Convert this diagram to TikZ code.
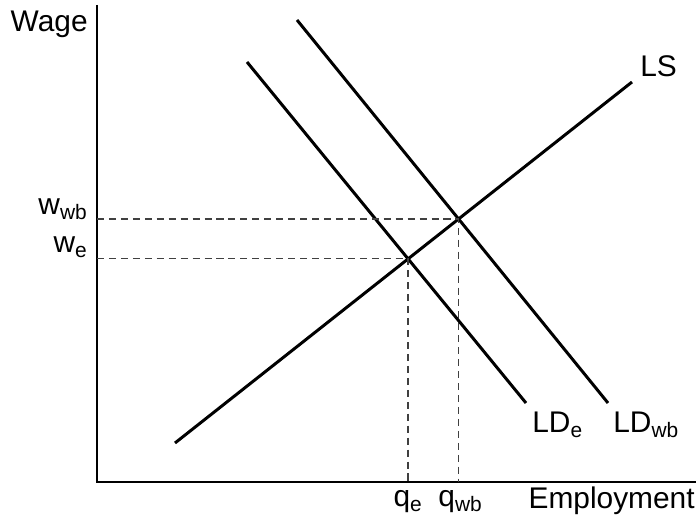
\documentclass[tikz,border=0pt]{standalone}
\usepackage{fontspec}
\setmainfont{Liberation Sans}
\usetikzlibrary{calc,intersections}
\tikzset{
  curve/.style={line width=1.7pt,black},
  axis/.style={line width=1.1pt,black},
  guide/.style={line width=0.7pt,black!75,dash pattern=on 4pt off 2.8pt},
  lbl/.style={font=\fontsize{17}{20}\selectfont,inner sep=0pt}
}
\begin{document}
\begin{tikzpicture}[x=0.02cm,y=-0.02cm]
  \useasboundingbox (0,0) rectangle (696,519);
  \coordinate (O) at (97,482); \coordinate (Ytop) at (97,5); \coordinate (Xend) at (696,482);
  \draw[axis] (Ytop)--(O)--(Xend);
  \draw[curve,name path=LS] (175,443)--(632,82);
  \draw[curve,name path=LDe] (247,62)--(526,403);
  \draw[curve,name path=LDwb] (297,20)--(608,403);
  \path[name intersections={of=LS and LDe,by=Ee}];
  \path[name intersections={of=LS and LDwb,by=Ewb}];
  \draw[guide] (Ee -| O)--(Ee)--(Ee |- O);
  \draw[guide] (Ewb -| O)--(Ewb)--(Ewb |- O);
  \node[lbl,anchor=base east] (wage) at (88,32) {Wage};
  \node[lbl,anchor=base west] (ls) at (640,77) {LS};
  \node[lbl,anchor=base west] (lde) at (532,433) {LD\textsubscript{e}};
  \node[lbl,anchor=base west] (ldwb) at (613,433) {LD\textsubscript{wb}};
  \node[lbl,anchor=base east] (wwb) at (88,215) {w\textsubscript{wb}};
  \node[lbl,anchor=base east] (we) at (88,253) {w\textsubscript{e}};
  \node[lbl,anchor=base] (qe) at ($(Ee |- O)+(0,25)$) {q\textsubscript{e}};
  \node[lbl,anchor=base] (qwb) at ($(Ewb |- O)+(2,25)$) {q\textsubscript{wb}};
  \node[lbl,anchor=base east] (emp) at (695,509) {Employment};
\end{tikzpicture}
\end{document}
